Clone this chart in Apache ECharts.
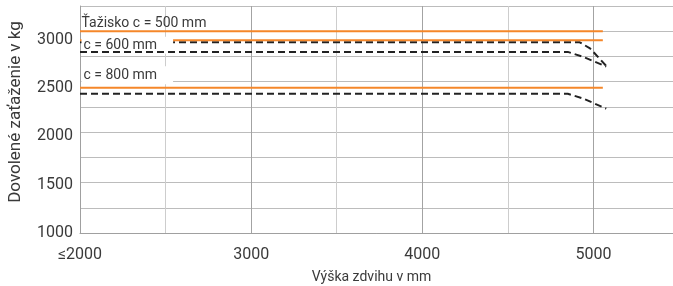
<!DOCTYPE html>
<html><head><meta charset="utf-8">
<script src="https://cdn.jsdelivr.net/npm/echarts@6/dist/echarts.min.js"></script>
<style>html,body{margin:0;padding:0;background:#fff}#c{width:673px;height:286px}</style>
</head><body><div id="c"></div>
<script>
// ---- data ----
const xTicks = [2000, 3000, 4000, 5000];
const xTickLabels = ['≤2000', '3000', '4000', '5000'];
const yTicks = [1000, 1500, 2000, 2500, 3000];
const labelTexts = ['Ťažisko c = 500 mm', 'c = 600 mm', 'c = 800 mm'];
const orangeA = [[2000, 3000], [5055, 3000]];
const orangeB = [[2000, 2910], [5055, 2910]];
const orangeC = [[2000, 2440], [5055, 2440]];
const dashedA = [[2000, 2890], [4920, 2890], [4980, 2830], [5078, 2650]];
const dashedB = [[2000, 2795], [4850, 2795], [4940, 2746], [5075, 2650]];
const dashedC = [[2000, 2380], [4850, 2380], [4940, 2333], [5075, 2232]];

const ORANGE = '#F5872A';
const DARK = '#222';
const TEXT = '#3a3a3a';
const FONT = 'Roboto';

function orangeSeries(data, text, labelOpts) {
  return {
    type: 'line', data: data, symbol: 'none', z: 3,
    lineStyle: { color: ORANGE, width: 2 },
    markPoint: {
      z: 5, symbol: 'circle', symbolSize: 1, silent: true,
      itemStyle: { color: 'rgba(0,0,0,0)' },
      data: [{ coord: data[0] }],
      label: Object.assign({
        show: true, position: 'right', distance: 1,
        formatter: text, color: TEXT, fontFamily: FONT, fontSize: 14, lineHeight: 14
      }, labelOpts)
    }
  };
}
function dashedSeries(data, z) {
  return {
    type: 'line', data: data, symbol: 'none', z: z,
    lineStyle: { color: DARK, width: 2, type: [7, 4] }
  };
}

const chart = echarts.init(document.getElementById('c'), null, { renderer: 'canvas' });
chart.setOption({
  animation: false,
  backgroundColor: '#fff',
  grid: { left: 80, right: -6, top: 6, bottom: 53, outerBoundsMode: 'none', containLabel: false },
  xAxis: {
    type: 'value', min: 2000, max: 5500, interval: 500,
    name: 'Výška zdvihu v mm', nameLocation: 'middle', nameGap: 37,
    nameTextStyle: { color: TEXT, fontFamily: FONT, fontSize: 14, padding: [0, 16, 0, 0] },
    axisLine: { show: true, lineStyle: { color: '#a0a0a0', width: 1 } },
    axisTick: { show: false },
    axisLabel: {
      customValues: xTicks, margin: 14, color: TEXT, fontFamily: FONT, fontSize: 16,
      formatter: v => xTickLabels[xTicks.indexOf(v)]
    },
    splitLine: { show: true, lineStyle: { color: ['#a3a3a3', '#cdcdcd'], width: 1 } }
  },
  yAxis: [{
    type: 'value', min: 1000, max: 3250, interval: 250,
    name: 'Dovolené zaťaženie v kg', nameLocation: 'middle', nameGap: 56,
    nameTextStyle: { color: TEXT, fontFamily: FONT, fontSize: 17, padding: [0, 0, 0, 15] },
    axisLine: { show: true, lineStyle: { color: '#a0a0a0', width: 1 } },
    axisTick: { show: false },
    axisLabel: { show: false },
    splitLine: { show: true, lineStyle: { color: '#bcbcbc', width: 1 } }
  }, {
    type: 'value', position: 'left', min: 998, max: 3348,
    axisLine: { show: false }, axisTick: { show: false },
    splitLine: { show: false },
    axisLabel: { customValues: yTicks, margin: 7, color: TEXT, fontFamily: FONT, fontSize: 16,
      formatter: v => String(v) }
  }],
  series: [
    orangeSeries(orangeA, labelTexts[0], { offset: [0, -7.5] }),
    orangeSeries(orangeB, labelTexts[1], { offset: [0, 5], backgroundColor: '#fff', padding: [3, 16, 0, 2] }),
    orangeSeries(orangeC, labelTexts[2], { offset: [0, -12.5], backgroundColor: '#fff', padding: [2, 16, 2, 2] }),
    dashedSeries(dashedA, 2),
    dashedSeries(dashedB, 6),
    dashedSeries(dashedC, 2)
  ]
});
</script></body></html>
